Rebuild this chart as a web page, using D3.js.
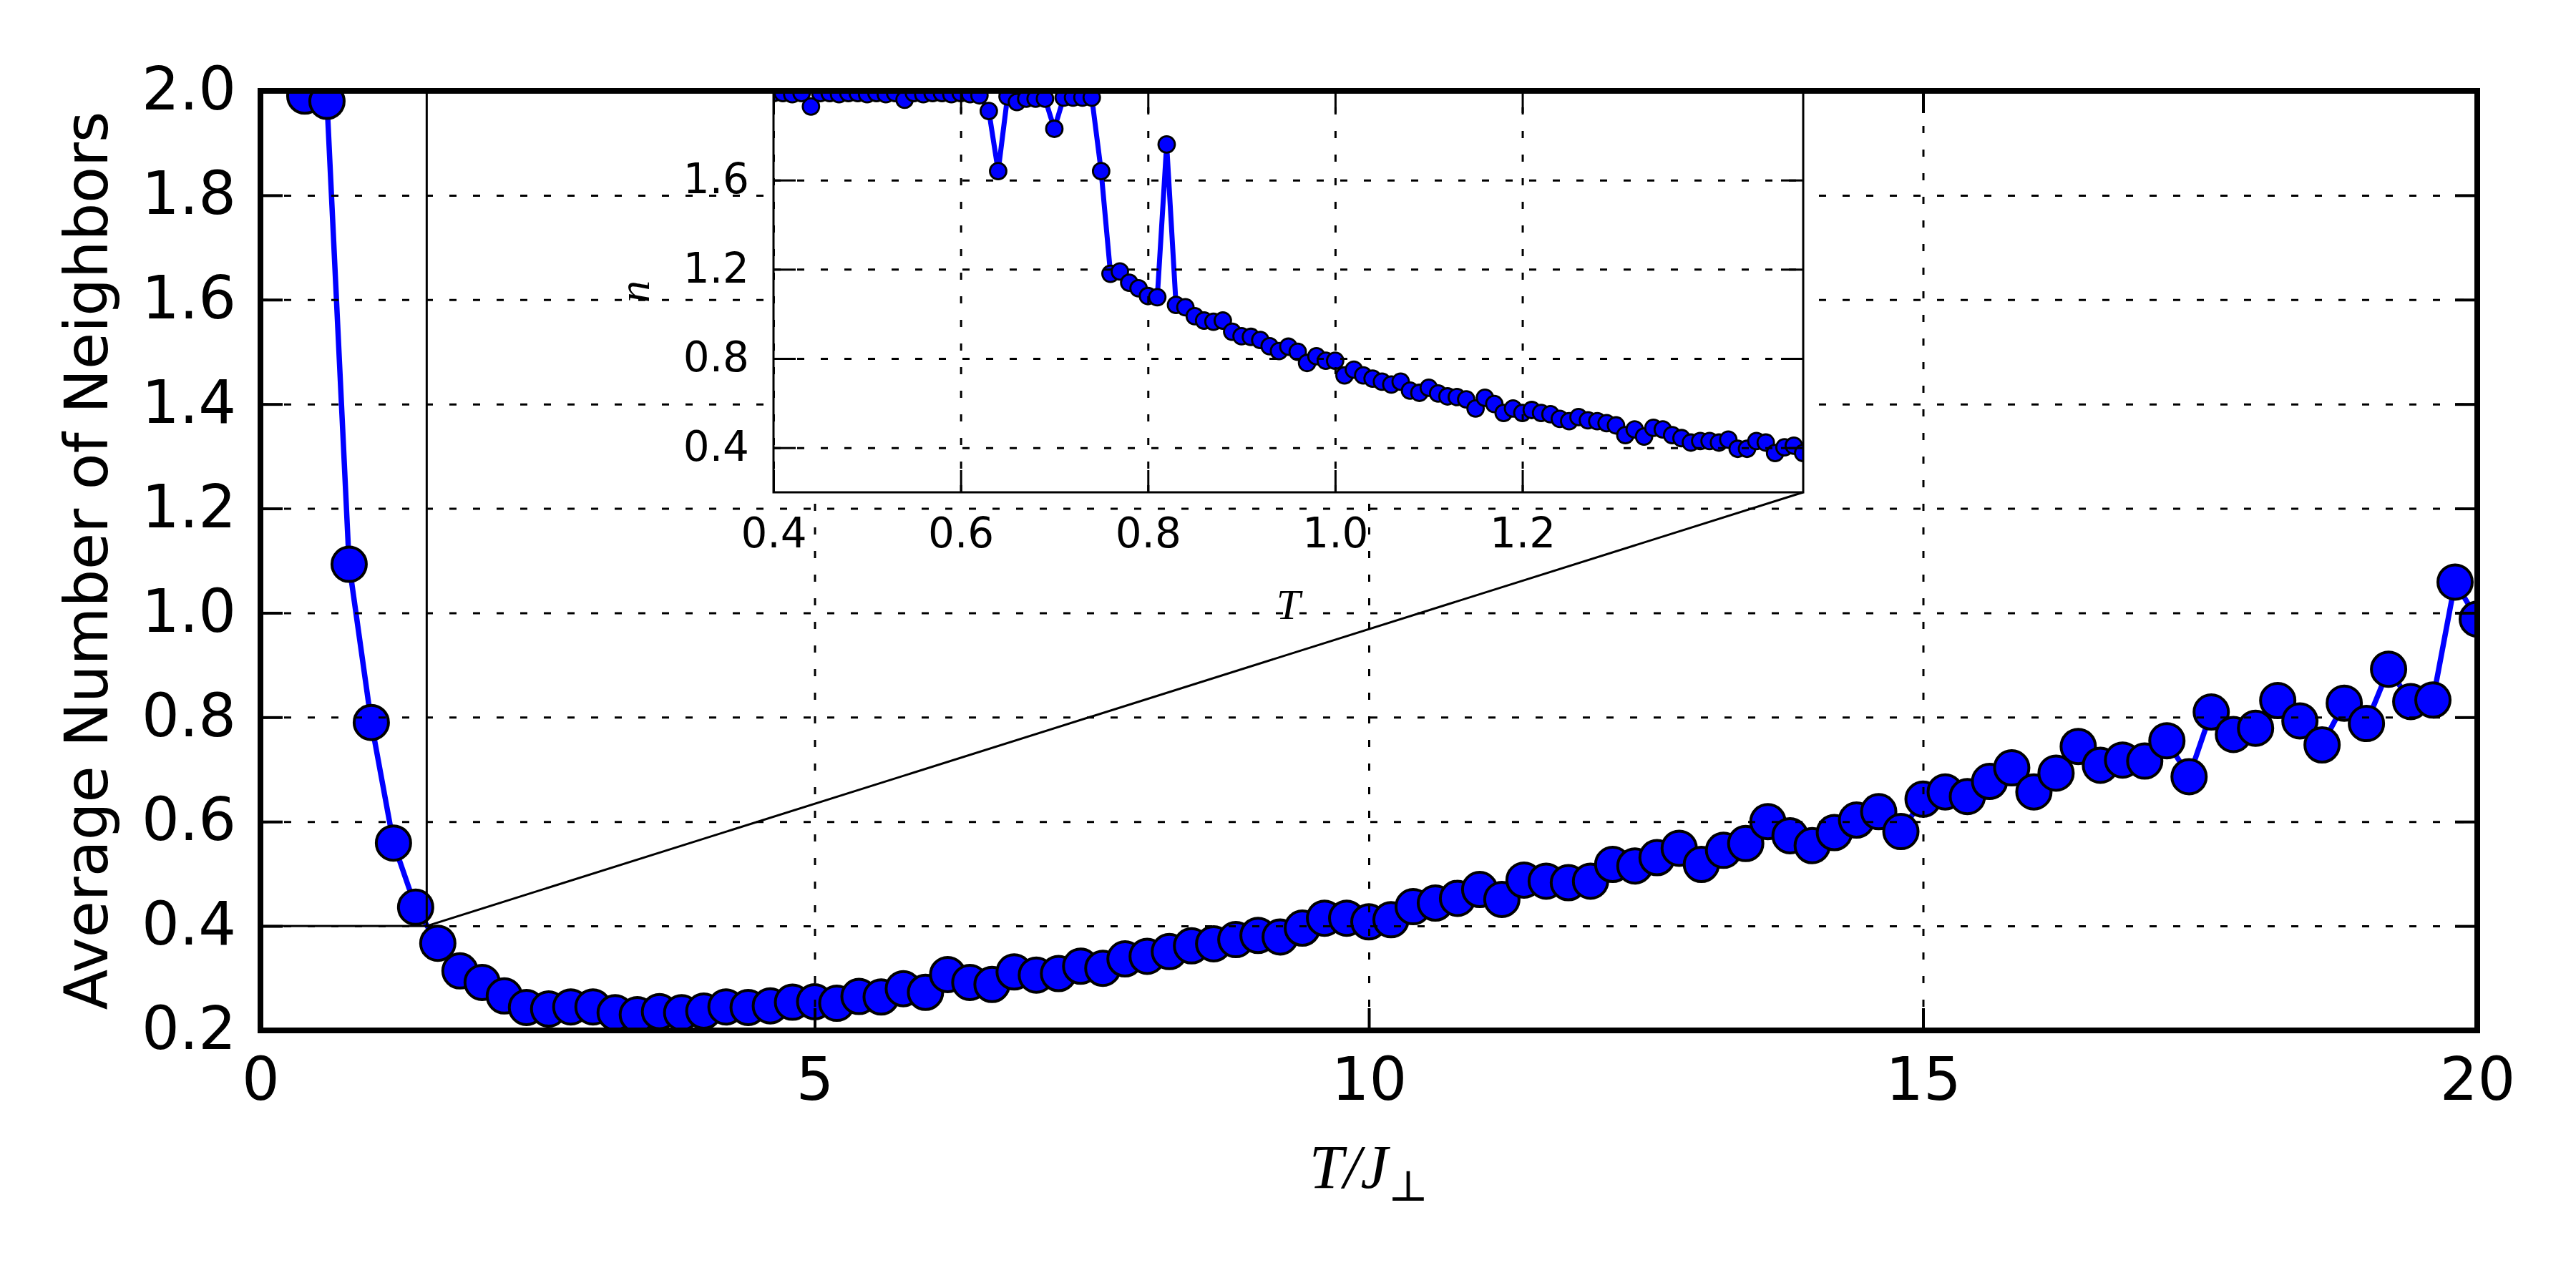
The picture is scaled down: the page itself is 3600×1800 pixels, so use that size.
<!DOCTYPE html>
<html>
<head>
<meta charset="utf-8">
<script src="https://cdn.jsdelivr.net/npm/d3@7"></script>
<style>
body { margin: 0; background: #fff; }
text { font-family: "DejaVu Sans", sans-serif; }
text.math { font-family: "Liberation Serif", "DejaVu Serif", serif; }
</style>
</head>
<body>
<div id="graphicContainer"></div>
<script>

// main curve, T/J from 0.4 to 20 in steps of 0.2
var temps = [0.4, 0.6, 0.8, 1.0, 1.2, 1.4, 1.6, 1.8, 2.0, 2.2, 2.4, 2.6, 2.8, 3.0, 3.2, 3.4, 3.6, 3.8, 4.0, 4.2,
	4.4, 4.6, 4.8, 5.0, 5.2, 5.4, 5.6, 5.8, 6.0, 6.2, 6.4, 6.6, 6.8, 7.0, 7.2, 7.4, 7.6, 7.8, 8.0, 8.2,
	8.4, 8.6, 8.8, 9.0, 9.2, 9.4, 9.6, 9.8, 10.0, 10.2, 10.4, 10.6, 10.8, 11.0, 11.2, 11.4, 11.6, 11.8, 12.0, 12.2,
	12.4, 12.6, 12.8, 13.0, 13.2, 13.4, 13.6, 13.8, 14.0, 14.2, 14.4, 14.6, 14.8, 15.0, 15.2, 15.4, 15.6, 15.8, 16.0, 16.2,
	16.4, 16.6, 16.8, 17.0, 17.2, 17.4, 17.6, 17.8, 18.0, 18.2, 18.4, 18.6, 18.8, 19.0, 19.2, 19.4, 19.6, 19.8, 20.0]

var neighbors = [1.99, 1.98, 1.093, 0.79, 0.559, 0.436, 0.367, 0.314, 0.292, 0.266, 0.244, 0.241, 0.245, 0.245, 0.234, 0.23, 0.236, 0.234, 0.237, 0.245,
	0.244, 0.247, 0.254, 0.255, 0.252, 0.265, 0.264, 0.28, 0.273, 0.307, 0.292, 0.288, 0.312, 0.306, 0.309, 0.323, 0.319, 0.337, 0.342, 0.351,
	0.362, 0.366, 0.374, 0.382, 0.379, 0.396, 0.415, 0.415, 0.408, 0.412, 0.437, 0.444, 0.453, 0.47, 0.451, 0.488, 0.486, 0.483, 0.486, 0.518,
	0.515, 0.531, 0.549, 0.518, 0.545, 0.558, 0.6, 0.573, 0.554, 0.579, 0.603, 0.619, 0.581, 0.643, 0.657, 0.648, 0.677, 0.703, 0.657, 0.693,
	0.744, 0.708, 0.718, 0.716, 0.755, 0.686, 0.81, 0.767, 0.779, 0.832, 0.793, 0.747, 0.827, 0.788, 0.892, 0.83, 0.833, 1.059, 0.988]

// inset, T from 0.40 to 1.50 in steps of 0.01
var insetTemps = [0.40, 0.41, 0.42, 0.43, 0.44, 0.45, 0.46, 0.47, 0.48, 0.49, 0.50, 0.51, 0.52, 0.53, 0.54, 0.55, 0.56, 0.57, 0.58, 0.59,
	0.60, 0.61, 0.62, 0.63, 0.64, 0.65, 0.66, 0.67, 0.68, 0.69, 0.70, 0.71, 0.72, 0.73, 0.74, 0.75, 0.76, 0.77, 0.78, 0.79,
	0.80, 0.81, 0.82, 0.83, 0.84, 0.85, 0.86, 0.87, 0.88, 0.89, 0.90, 0.91, 0.92, 0.93, 0.94, 0.95, 0.96, 0.97, 0.98, 0.99,
	1.00, 1.01, 1.02, 1.03, 1.04, 1.05, 1.06, 1.07, 1.08, 1.09, 1.10, 1.11, 1.12, 1.13, 1.14, 1.15, 1.16, 1.17, 1.18, 1.19,
	1.20, 1.21, 1.22, 1.23, 1.24, 1.25, 1.26, 1.27, 1.28, 1.29, 1.30, 1.31, 1.32, 1.33, 1.34, 1.35, 1.36, 1.37, 1.38, 1.39,
	1.40, 1.41, 1.42, 1.43, 1.44, 1.45, 1.46, 1.47, 1.48, 1.49, 1.50]

var insetNeighbors = [1.99, 1.99, 1.985, 1.99, 1.93, 1.99, 1.99, 1.985, 1.99, 1.99, 1.985, 1.99, 1.985, 1.99, 1.96, 1.99, 1.985, 1.99, 1.99, 1.985,
	1.99, 1.985, 1.98, 1.91, 1.64, 1.975, 1.95, 1.965, 1.965, 1.965, 1.83, 1.97, 1.97, 1.97, 1.97, 1.64, 1.18, 1.19, 1.14, 1.115,
	1.08, 1.075, 1.76, 1.04, 1.03, 0.99, 0.97, 0.965, 0.97, 0.92, 0.90, 0.897, 0.883, 0.855, 0.833, 0.853, 0.83, 0.78, 0.81, 0.79,
	0.79, 0.724, 0.75, 0.724, 0.71, 0.696, 0.683, 0.696, 0.656, 0.646, 0.669, 0.643, 0.63, 0.627, 0.617, 0.576, 0.624, 0.596, 0.556, 0.576,
	0.556, 0.569, 0.556, 0.55, 0.529, 0.519, 0.537, 0.523, 0.519, 0.51, 0.50, 0.456, 0.482, 0.45, 0.489, 0.482, 0.456, 0.443, 0.423, 0.43,
	0.43, 0.423, 0.436, 0.395, 0.395, 0.43, 0.423, 0.376, 0.402, 0.409, 0.376]

var xTicks = [0, 5, 10, 15, 20]
var yTicks = [0.2, 0.4, 0.6, 0.8, 1.0, 1.2, 1.4, 1.6, 1.8, 2.0]
var insetXTicks = [0.4, 0.6, 0.8, 1.0, 1.2]
var insetYTicks = [0.4, 0.8, 1.2, 1.6]

// region of the main plot that the inset blows up
var zoomX = [0, 1.5]
var zoomY = [0.4, 2.0]

function makeChart() {

	var width = 3600, height = 1800;
	var main = {left: 364, right: 3462, top: 127, bottom: 1440};
	var ins = {left: 1081, right: 2520, top: 127, bottom: 688};

	var x = d3.scaleLinear().domain([0, 20]).range([main.left, main.right]);
	var y = d3.scaleLinear().domain([0.2, 2.0]).range([main.bottom, main.top]);
	var xi = d3.scaleLinear().domain([0.4, 1.5]).range([ins.left, ins.right]);
	var yi = d3.scaleLinear().domain([0.2, 2.0]).range([ins.bottom, ins.top]);

	d3.select("#graphicContainer svg").remove();

	var svg = d3.select("#graphicContainer").append("svg")
		.attr("width", width)
		.attr("height", height);

	svg.append("rect").attr("width", width).attr("height", height).attr("fill", "white");

	var defs = svg.append("defs");
	defs.append("clipPath").attr("id", "clipMain").append("rect")
		.attr("x", main.left).attr("y", main.top)
		.attr("width", main.right - main.left).attr("height", main.bottom - main.top);
	defs.append("clipPath").attr("id", "clipInset").append("rect")
		.attr("x", ins.left).attr("y", ins.top)
		.attr("width", ins.right - ins.left).attr("height", ins.bottom - ins.top);

	// draws line + markers + grid + ticks for one set of axes
	function drawPanel(g, box, xs, ys, xv, yv, opt) {

		var pts = xv.map((d, i) => [d, yv[i]]);

		var data = g.append("g").attr("clip-path", "url(#" + opt.clip + ")");

		data.append("path")
			.datum(pts)
			.attr("d", d3.line().x(d => xs(d[0])).y(d => ys(d[1])))
			.attr("fill", "none")
			.attr("stroke", "#0000ff")
			.attr("stroke-width", opt.lineWidth)
			.attr("stroke-linejoin", "round");

		data.selectAll("circle")
			.data(pts)
			.enter()
			.append("circle")
			.attr("cx", d => xs(d[0]))
			.attr("cy", d => ys(d[1]))
			.attr("r", opt.r)
			.attr("fill", "#0000ff")
			.attr("stroke", "black")
			.attr("stroke-width", opt.markerStroke);

		// grid (drawn above the data, like the classic style)
		var gx = g.append("g")
			.attr("transform", "translate(0," + box.bottom + ")")
			.call(d3.axisBottom(xs).tickValues(opt.xTicks).tickSize(-(box.bottom - box.top)).tickFormat(""));
		var gy = g.append("g")
			.attr("transform", "translate(" + box.left + ",0)")
			.call(d3.axisLeft(ys).tickValues(opt.yTicks).tickSize(-(box.right - box.left)).tickFormat(""));
		[gx, gy].forEach(a => {
			a.select(".domain").remove();
			a.selectAll("line")
				.attr("stroke", "black")
				.attr("stroke-width", 3)
				.attr("stroke-dasharray", "10,23");
		});

		// inward ticks on all four sides
		var bottom = g.append("g")
			.attr("transform", "translate(0," + box.bottom + ")")
			.call(d3.axisBottom(xs).tickValues(opt.xTicks).tickSizeInner(-31).tickSizeOuter(0)
				.tickPadding(opt.xPad).tickFormat(opt.xFormat));
		var top = g.append("g")
			.attr("transform", "translate(0," + box.top + ")")
			.call(d3.axisTop(xs).tickValues(opt.xTicks).tickSizeInner(-31).tickSizeOuter(0).tickFormat(""));
		var left = g.append("g")
			.attr("transform", "translate(" + box.left + ",0)")
			.call(d3.axisLeft(ys).tickValues(opt.yTicks).tickSizeInner(-31).tickSizeOuter(0)
				.tickPadding(34).tickFormat(opt.yFormat));
		var right = g.append("g")
			.attr("transform", "translate(" + box.right + ",0)")
			.call(d3.axisRight(ys).tickValues(opt.yTicks).tickSizeInner(-31).tickSizeOuter(0).tickFormat(""));

		[bottom, top, left, right].forEach(a => {
			a.select(".domain").remove();
			a.selectAll("line").attr("stroke", "black").attr("stroke-width", opt.tickWidth);
			a.attr("font-family", null).attr("font-size", opt.fontSize);
			a.selectAll("text").attr("fill", "black");
		});
		left.selectAll("text").attr("dy", "0.31em");
	}

	// ---- main axes
	var mainG = svg.append("g");
	drawPanel(mainG, main, x, y, temps, neighbors, {
		clip: "clipMain", lineWidth: 7.5, r: 24, markerStroke: 4,
		xTicks: xTicks, yTicks: yTicks, tickWidth: 4, fontSize: 83,
		xPad: 38, xFormat: d3.format("d"), yFormat: d3.format(".1f")
	});

	mainG.append("text")
		.attr("transform", "translate(150," + (main.top + main.bottom) / 2 + ") rotate(-90)")
		.attr("text-anchor", "middle")
		.attr("font-size", 83)
		.text("Average Number of Neighbors");

	var xl = mainG.append("text")
		.attr("class", "math")
		.attr("x", (main.left + main.right) / 2)
		.attr("y", 1660)
		.attr("text-anchor", "middle")
		.attr("font-size", 86);
	xl.append("tspan").style("font-style", "italic").text("T/J");
	xl.append("tspan").attr("font-size", 60).attr("dy", 18).text("⊥");

	// zoom rectangle and connectors
	var zoomG = svg.append("g").attr("clip-path", "url(#clipMain)");
	zoomG.append("rect")
		.attr("x", x(zoomX[0])).attr("y", y(zoomY[1]))
		.attr("width", x(zoomX[1]) - x(zoomX[0]))
		.attr("height", y(zoomY[0]) - y(zoomY[1]))
		.attr("fill", "none").attr("stroke", "black").attr("stroke-width", 3);
	svg.append("line")
		.attr("x1", x(zoomX[1])).attr("y1", y(zoomY[0]))
		.attr("x2", ins.right).attr("y2", ins.bottom)
		.attr("stroke", "black").attr("stroke-width", 3);
	svg.append("line")
		.attr("x1", x(zoomX[1])).attr("y1", y(zoomY[1]))
		.attr("x2", ins.right).attr("y2", ins.top)
		.attr("stroke", "black").attr("stroke-width", 3);

	// ---- inset axes
	var insG = svg.append("g");
	insG.append("rect")
		.attr("x", ins.left).attr("y", ins.top)
		.attr("width", ins.right - ins.left).attr("height", ins.bottom - ins.top)
		.attr("fill", "white");

	drawPanel(insG, ins, xi, yi, insetTemps, insetNeighbors, {
		clip: "clipInset", lineWidth: 7, r: 11.5, markerStroke: 2.8,
		xTicks: insetXTicks, yTicks: insetYTicks, tickWidth: 3, fontSize: 58,
		xPad: 36, xFormat: d3.format(".1f"), yFormat: d3.format(".1f")
	});

	insG.append("rect")
		.attr("x", ins.left).attr("y", ins.top)
		.attr("width", ins.right - ins.left).attr("height", ins.bottom - ins.top)
		.attr("fill", "none").attr("stroke", "black").attr("stroke-width", 3);

	insG.append("text")
		.attr("class", "math")
		.attr("x", (ins.left + ins.right) / 2)
		.attr("y", 865)
		.attr("text-anchor", "middle")
		.style("font-style", "italic")
		.attr("font-size", 60)
		.text("T");

	insG.append("text")
		.attr("class", "math")
		.attr("transform", "translate(907," + (ins.top + ins.bottom) / 2 + ") rotate(-90)")
		.attr("text-anchor", "middle")
		.style("font-style", "italic")
		.attr("font-size", 62)
		.text("n");

	// main frame last so the thick top spine sits over the inset edge
	svg.append("rect")
		.attr("x", main.left).attr("y", main.top)
		.attr("width", main.right - main.left).attr("height", main.bottom - main.top)
		.attr("fill", "none").attr("stroke", "black").attr("stroke-width", 8);
}

makeChart();

</script>
</body>
</html>
